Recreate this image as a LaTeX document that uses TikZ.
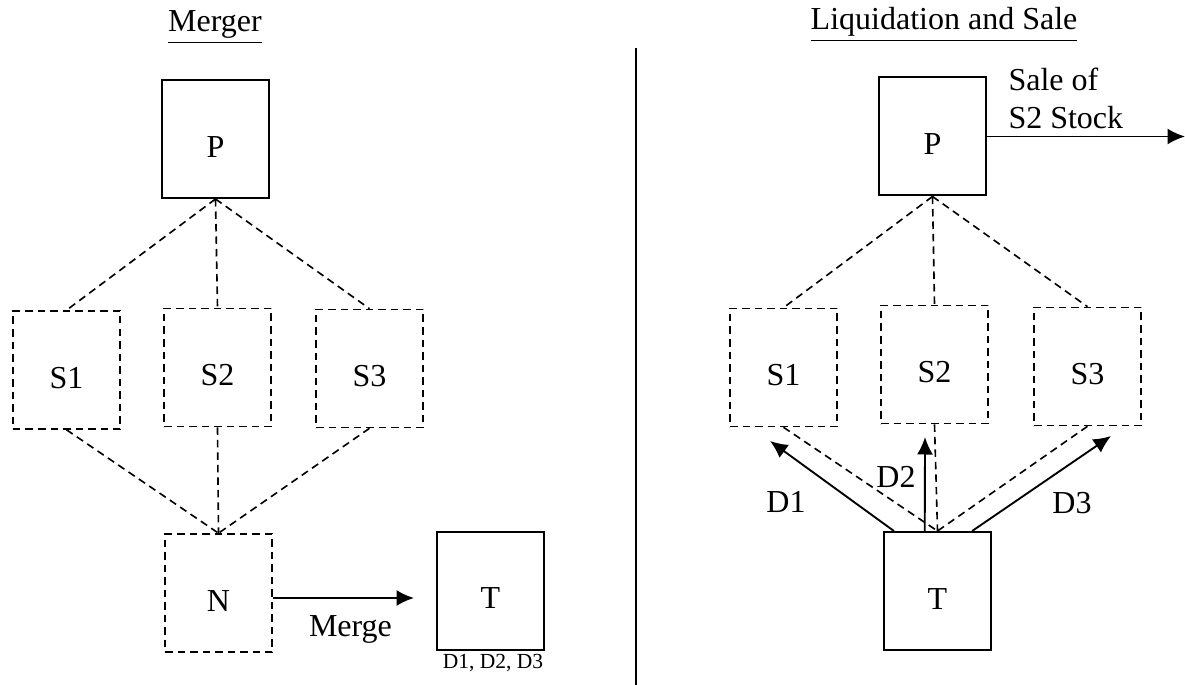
\documentclass[tikz,border=0pt]{standalone}
\usepackage{fontspec}
\setmainfont{Liberation Serif}
\usetikzlibrary{arrows.meta}

\tikzset{
  box/.style={draw, line width=0.8pt, minimum width=42.8pt, minimum height=47.2pt,
    inner sep=0pt, text height=14.6pt, text depth=0pt, font=\fontsize{12.8}{15.2}\selectfont},
  dbox/.style={box, line width=0.65pt, dash pattern=on 3pt off 2pt},
  link/.style={line width=0.65pt, dash pattern=on 3pt off 2pt},
  flow/.style={line width=0.75pt, -{Latex[length=7pt,width=6.4pt]}},
  lbl/.style={inner sep=0pt, font=\fontsize{12.8}{15.2}\selectfont}
}

\begin{document}
\begin{tikzpicture}[x=0.4pt,y=-0.4pt]

    \useasboundingbox (0,0) rectangle (1185,685);

    % Merger
    \node[lbl, anchor=base] (mtitle) at (215,32) {\underline{Merger}};

    %% Boxes
    \node[box]  (lP)  at (215.5,139)   {P};
    \node[dbox] (lS1) at (66.5,370)    {S1};
    \node[dbox] (lS2) at (217.5,367.5) {S2};
    \node[dbox] (lS3) at (369.5,368.5) {S3};
    \node[dbox] (lN)  at (218.5,593)   {N};
    \node[box]  (lT)  at (490.5,590.5) {T};
    \node[lbl, font=\fontsize{8.6}{10}\selectfont] (lD) at (493,663) {D1, D2, D3};

    %% Ownership lines
    \draw[link] (lP.south) -- (lS1.north);
    \draw[link] (lP.south) -- (lS2.north);
    \draw[link] (lP.south) -- (lS3.north);
    \draw[link] (lS1.south) -- (lN.north);
    \draw[link] (lS2.south) -- (lN.north);
    \draw[link] (lS3.south) -- (lN.north);

    %% Merge arrow
    \coordinate (mergeend) at (414,598);
    \draw[flow] (lN.east |- mergeend) -- node[lbl, pos=0.55, below=6.6pt] (merge) {Merge} (mergeend);

    % Divider
    \draw[line width=0.9pt] (636,48) -- (636,685);

    % Liquidation and Sale
    \node[lbl, anchor=base] (rtitle) at (944,30) {\underline{Liquidation and Sale}};

    %% Boxes
    \node[box]  (rP)  at (932.5,136.5)  {P};
    \node[dbox] (rS1) at (783.5,367.5)  {S1};
    \node[dbox] (rS2) at (934.5,364.5)  {S2};
    \node[dbox] (rS3) at (1087.5,366.5) {S3};
    \node[box]  (rT)  at (937.5,591)    {T};

    %% Sale arrow
    \coordinate (sold) at (1185,136.5);
    \draw[flow] (rP.east) -- (sold);
    \node[lbl, align=left, anchor=north west] (sale) at (1008,67) {Sale of\\S2 Stock};

    %% Ownership lines
    \draw[link] (rP.south) -- (rS1.north);
    \draw[link] (rP.south) -- (rS2.north);
    \draw[link] (rP.south) -- (rS3.north);
    \draw[link] (rS1.south) -- (rT.north);
    \draw[link] (rS2.south) -- (rT.north);
    \draw[link] (rS3.south) -- (rT.north);

    %% Distributions
    \coordinate (d1tip) at (770,441);
    \coordinate (d2tip) at (925,437);
    \coordinate (d3tip) at (1111,436);
    \draw[flow] (rT.126) -- (d1tip);
    \draw[flow] (rT.102) -- (d2tip);
    \draw[flow] (rT.60) -- (d3tip);
    \node[lbl] (d1) at (786,502)  {D1};
    \node[lbl] (d2) at (896,477)  {D2};
    \node[lbl] (d3) at (1072,503) {D3};

\end{tikzpicture}
\end{document}
